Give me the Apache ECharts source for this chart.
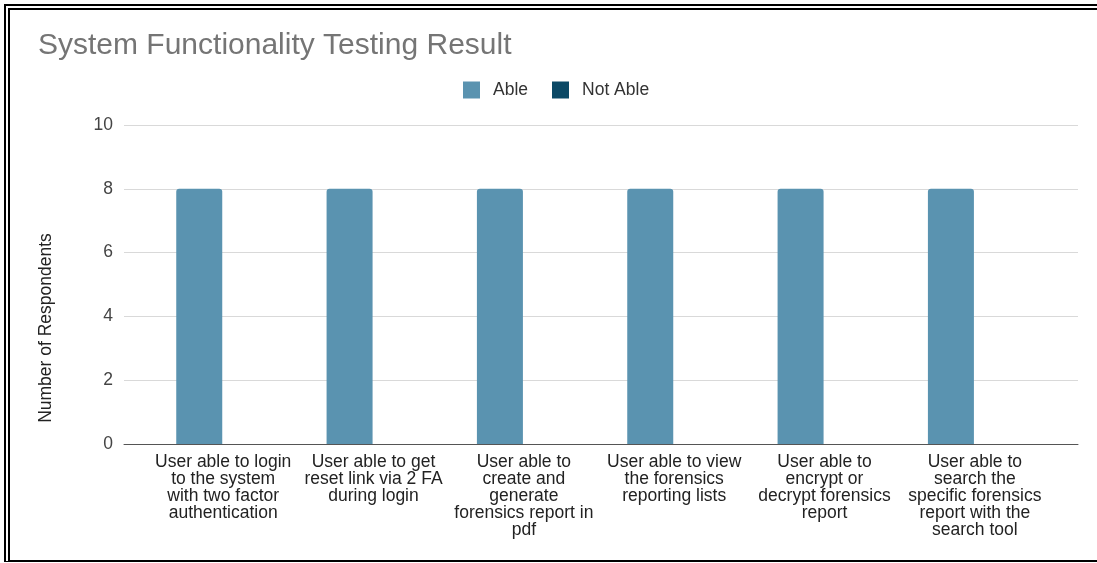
<!DOCTYPE html>
<html lang="en">

<head>
    <meta charset="UTF-8">
    <title>System Functionality Testing Result</title>
    <style>
        html, body { margin: 0; padding: 0; overflow: hidden; background: #fff; }
        .show { position: absolute; left: 0; top: 0; width: 1097px; height: 563px; }
        /* picture frame round the screenshot */
        .frame {
            position: absolute; left: 4px; top: 4px; width: 1200px; height: 558px;
            box-sizing: border-box; pointer-events: none;
            border-left: 6px double #000; border-top: 6px double #000; border-bottom: 2px solid #000;
        }
    </style>
</head>

<body>
    <div class="show"></div>
    <div class="frame"></div>
    <script src="https://cdn.jsdelivr.net/npm/echarts@6/dist/echarts.min.js"></script>
    <script>
        // categories, wrapped as in the picture
        const categories = [
            'User able to login\nto the system\nwith two factor\nauthentication',
            'User able to get\nreset link via 2 FA\nduring login',
            'User able to\ncreate and\ngenerate\nforensics report in\npdf',
            'User able to view\nthe forensics\nreporting lists',
            'User able to\nencrypt or\ndecrypt forensics\nreport',
            'User able to\nsearch the\nspecific forensics\nreport with the\nsearch tool'
        ]
        const ableValues = [8, 8, 8, 8, 8, 8]
        const notAbleValues = [0, 0, 0, 0, 0, 0]
        const yTicks = { min: 0, max: 10, interval: 2 }

        const myChart = echarts.init(document.querySelector('.show'))

        const font = 'Arial, "Liberation Sans", sans-serif'
        const fs = 17.5

        const option = {
            textStyle: { fontFamily: font },
            title: {
                text: 'System Functionality Testing Result',
                left: 38,
                top: 31,
                padding: 0,
                textStyle: { fontSize: 30, fontWeight: 'normal', color: '#757575', fontFamily: font }
            },
            legend: {
                data: ['Able', 'Not Able'],
                left: 463,
                top: 81,
                padding: 0,
                icon: 'rect',
                itemWidth: 17,
                itemHeight: 17,
                itemGap: 24,
                textStyle: { fontSize: fs, color: '#333', padding: [0, 0, 0, 8] }
            },
            /* grid 0 holds the gridlines and y labels, grid 1 holds the bars (inset like the original) */
            grid: [
                { left: 124, right: 19, top: 125, bottom: 119 },
                { left: 148, right: 47, top: 125, bottom: 119 }
            ],
            xAxis: [
                {
                    type: 'value', gridIndex: 0, min: 0, max: 1,
                    axisLine: { show: true, lineStyle: { color: '#555', width: 1 } },
                    axisTick: { show: false }, axisLabel: { show: false }, splitLine: { show: false }
                },
                {
                    type: 'category', gridIndex: 1, data: categories,
                    axisLine: { show: false }, axisTick: { show: false },
                    axisLabel: { interval: 0, margin: 10, fontSize: fs, lineHeight: 17, color: '#222', align: 'center' }
                }
            ],
            yAxis: [
                {
                    type: 'value', gridIndex: 0, min: yTicks.min, max: yTicks.max, interval: yTicks.interval,
                    axisLine: { show: false }, axisTick: { show: false },
                    axisLabel: { fontSize: fs, color: '#444', margin: 11 },
                    splitLine: { lineStyle: { color: '#d9d9d9' } }
                },
                {
                    type: 'value', gridIndex: 1, min: yTicks.min, max: yTicks.max, show: false
                }
            ],
            graphic: [{
                type: 'text',
                x: 46, y: 328,
                rotation: Math.PI / 2,
                style: {
                    text: 'Number of Respondents',
                    font: fs + 'px ' + font,
                    fill: '#222',
                    align: 'center',
                    verticalAlign: 'middle'
                }
            }],
            series: [
                {
                    name: 'Able', type: 'bar', xAxisIndex: 1, yAxisIndex: 1,
                    data: ableValues, barWidth: 46, barGap: '4%',
                    itemStyle: { color: '#5a93b0', borderRadius: [3, 3, 0, 0] }
                },
                {
                    name: 'Not Able', type: 'bar', xAxisIndex: 1, yAxisIndex: 1,
                    data: notAbleValues, barWidth: 46,
                    itemStyle: { color: '#0b4966', borderRadius: [3, 3, 0, 0] }
                }
            ]
        }

        myChart.setOption(option)
    </script>
</body>

</html>
